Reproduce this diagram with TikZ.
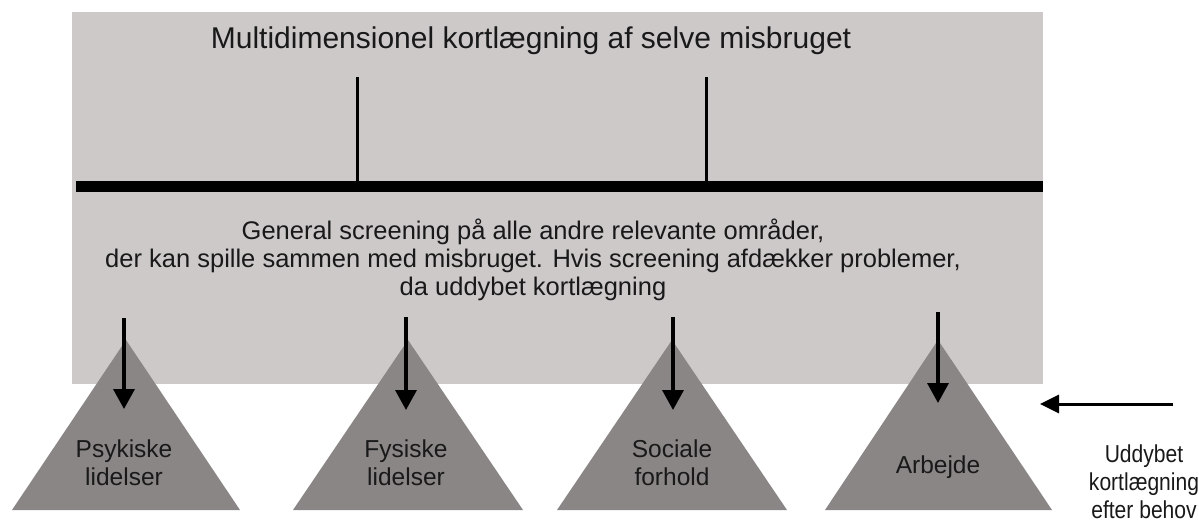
\documentclass[tikz,border=0pt]{standalone}
\usepackage{fontspec}
\setmainfont{Liberation Sans}
\usetikzlibrary{arrows.meta}

\definecolor{boxgray}{RGB}{205,201,201}
\definecolor{trigray}{RGB}{139,134,134}
\definecolor{ink}{RGB}{25,25,25}

\begin{document}
\begin{tikzpicture}[
		x=1pt, y=-1pt,
		every node/.style={inner sep=0pt, text=ink, align=center},
		big/.style={font=\fontsize{30}{34}\selectfont},
		small/.style={font=\fontsize{24.5}{28}\selectfont},
		mid/.style={font=\fontsize{25.5}{28}\selectfont},
		tri/.style={fill=trigray},
		down/.style={line width=3.5pt, -{Triangle[length=20pt, width=21pt]}}
	]
  \useasboundingbox (0, 0) rectangle (1199, 520);

  % grey field with the time line
  \fill [boxgray] (72, 12) rectangle (1043, 384);
  \fill [black] (76, 181) rectangle (1043, 192);
  \draw [line width=3pt] (357, 77) -- (357, 184);
  \draw [line width=3pt] (706, 77) -- (706, 184);

  \node (title) [big, anchor=base] at (531, 48) {Multidimensionel kortlægning af selve misbruget};
  \node (screening) [mid] at (533, 260) {General screening på alle andre relevante områder,\\
    der kan spille sammen med misbruget. Hvis screening afdækker problemer,\\
    da uddybet kortlægning};

  % the four areas
  \fill [tri] (126, 340) -- (240, 510) -- (12, 510) -- cycle;
  \fill [tri] (408, 340) -- (523, 510) -- (293, 510) -- cycle;
  \fill [tri] (672, 340) -- (787, 510) -- (557, 510) -- cycle;
  \fill [tri] (938, 340) -- (1052, 510) -- (825, 510) -- cycle;

  \node (psyk) [small] at (124, 463) {Psykiske\\lidelser};
  \node (fys) [small] at (406, 463) {Fysiske\\lidelser};
  \node (soc) [small] at (672, 463) {Sociale\\forhold};
  \node (arb) [small, anchor=base] at (938, 473) {Arbejde};
  \node (uddyb) [small, xscale=0.86, transform shape] at (1144, 482) {Uddybet\\kortlægning\\efter behov};

  \coordinate (psyk_top) at (124, 318);
  \coordinate (psyk_tip) at (124, 409);
  \coordinate (fys_top) at (406, 317);
  \coordinate (fys_tip) at (406, 410);
  \coordinate (soc_top) at (673, 317);
  \coordinate (soc_tip) at (673, 410);
  \coordinate (arb_top) at (938, 312);
  \coordinate (arb_tip) at (938, 403);
  \draw [down] (psyk_top) -- (psyk_tip);
  \draw [down] (fys_top) -- (fys_tip);
  \draw [down] (soc_top) -- (soc_tip);
  \draw [down] (arb_top) -- (arb_tip);

  \coordinate (side_start) at (1173, 404);
  \coordinate (side_tip) at (1040, 404);
  \draw [line width=3pt, -{Triangle[length=19pt, width=18pt]}] (side_start) -- (side_tip);
\end{tikzpicture}
\end{document}
